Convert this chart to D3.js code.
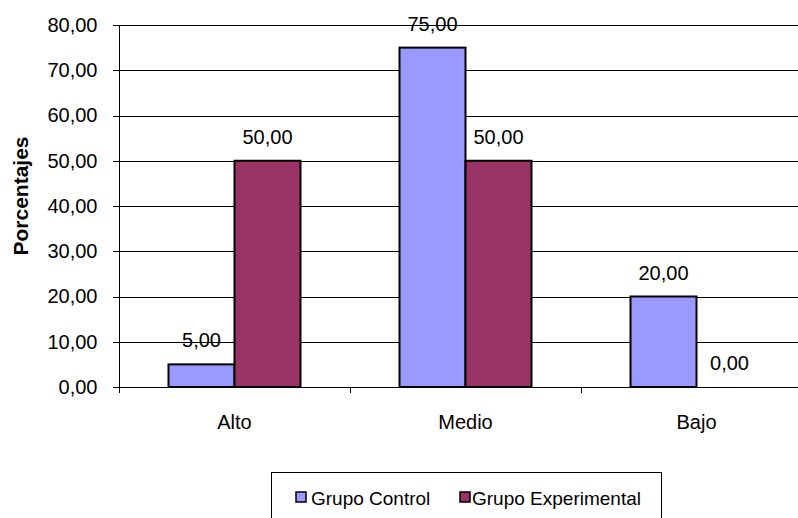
<!DOCTYPE html>
<html>
<head>
<meta charset="utf-8">
<script src="https://cdn.jsdelivr.net/npm/d3@7"></script>
<style>
  html, body { margin: 0; padding: 0; background: #fff; }
  svg { display: block; font-family: Arial, "Liberation Sans", sans-serif; }
</style>
</head>
<body>
<svg id="chart" width="798" height="518"></svg>
<script>
// Niveles evaluados y porcentajes por grupo
const categories = ["Alto", "Medio", "Bajo"];
const seriesNames = ["Grupo Control", "Grupo Experimental"];
const grupoControl = [5, 75, 20];
const grupoExperimental = [50, 50, 0];
const yTicks = [0, 10, 20, 30, 40, 50, 60, 70, 80];
const colors = ["#9999FF", "#993366"];

const seriesValues = [grupoControl, grupoExperimental];
const fmt = v => d3.format(".2f")(v).replace(".", ",");

const svg = d3.select("#chart");
const W = 798, H = 518;
const plot = { left: 119, top: 25, bottom: 387, right: 812 };

const x = d3.scaleBand().domain(categories).range([plot.left, plot.right]).paddingInner(0).paddingOuter(0);
const xs = d3.scaleBand().domain(seriesNames).range([0, x.bandwidth()]).paddingInner(0).paddingOuter(0.75);
const y = d3.scaleLinear().domain([0, 80]).range([plot.bottom, plot.top]);

// Horizontal gridlines
svg.append("g")
  .selectAll("line")
  .data(yTicks)
  .join("line")
  .attr("x1", plot.left - 6)
  .attr("x2", W)
  .attr("y1", d => Math.round(y(d)) + 0.5)
  .attr("y2", d => Math.round(y(d)) + 0.5)
  .attr("stroke", "#000")
  .attr("stroke-width", 1);

// Y axis
const yAxis = d3.axisLeft(y).tickValues(yTicks).tickFormat(fmt).tickSize(6).tickPadding(16);
const gy = svg.append("g").attr("transform", `translate(${plot.left + 0.5},0)`).call(yAxis);
gy.select(".domain").remove();
gy.selectAll(".tick line").remove();
gy.selectAll(".tick text").attr("font-size", 20).attr("fill", "#000").attr("font-family", "Arial, 'Liberation Sans', sans-serif");
svg.append("line")
  .attr("x1", plot.left + 0.5).attr("x2", plot.left + 0.5)
  .attr("y1", plot.top).attr("y2", plot.bottom)
  .attr("stroke", "#000");

// Bars
const groups = svg.append("g")
  .selectAll("g")
  .data(categories)
  .join("g")
  .attr("transform", d => `translate(${x(d)},0)`);

groups.selectAll("rect")
  .data((c, i) => seriesNames.map((s, j) => ({ s, j, v: seriesValues[j][i] })))
  .join("rect")
  .attr("x", d => xs(d.s))
  .attr("width", xs.bandwidth())
  .attr("y", d => y(d.v))
  .attr("height", d => y(0) - y(d.v))
  .attr("fill", d => colors[d.j])
  .attr("stroke", "#000")
  .attr("stroke-width", 2);

// Value labels
groups.selectAll("text")
  .data((c, i) => seriesNames.map((s, j) => ({ s, j, v: seriesValues[j][i] })))
  .join("text")
  .attr("x", d => xs(d.s) + xs.bandwidth() / 2)
  .attr("y", d => y(d.v) - 17)
  .attr("text-anchor", "middle")
  .attr("font-size", 20)
  .attr("fill", "#000")
  .text(d => fmt(d.v));

// X axis baseline and category ticks
svg.append("line")
  .attr("x1", plot.left).attr("x2", W)
  .attr("y1", plot.bottom + 0.5).attr("y2", plot.bottom + 0.5)
  .attr("stroke", "#000");
const xAxis = d3.axisBottom(x).tickSize(0).tickPadding(28);
const gx = svg.append("g").attr("transform", `translate(0,${plot.bottom})`).call(xAxis);
gx.select(".domain").remove();
gx.selectAll(".tick text").attr("font-size", 20).attr("fill", "#000").attr("font-family", "Arial, 'Liberation Sans', sans-serif");
svg.append("g")
  .selectAll("line")
  .data(categories)
  .join("line")
  .attr("x1", d => Math.round(x(d)) + 0.5)
  .attr("x2", d => Math.round(x(d)) + 0.5)
  .attr("y1", plot.bottom)
  .attr("y2", plot.bottom + 6)
  .attr("stroke", "#000");

// Y axis title
svg.append("text")
  .attr("transform", "translate(28,196) rotate(-90)")
  .attr("text-anchor", "middle")
  .attr("font-size", 21)
  .attr("font-weight", "bold")
  .attr("fill", "#000")
  .text("Porcentajes");

// Legend
const legend = svg.append("g");
legend.append("rect")
  .attr("x", 271.5).attr("y", 472.5)
  .attr("width", 390).attr("height", 60)
  .attr("fill", "#fff").attr("stroke", "#000");
const legendItems = [{ x: 296, tx: 311 }, { x: 460, tx: 472 }];
seriesNames.forEach((name, i) => {
  legend.append("rect")
    .attr("x", legendItems[i].x).attr("y", 492)
    .attr("width", 10).attr("height", 10)
    .attr("fill", colors[i]).attr("stroke", "#000").attr("stroke-width", 1.5);
  legend.append("text")
    .attr("x", legendItems[i].tx).attr("y", 505)
    .attr("font-size", 19).attr("fill", "#000")
    .text(name);
});
</script>
</body>
</html>
